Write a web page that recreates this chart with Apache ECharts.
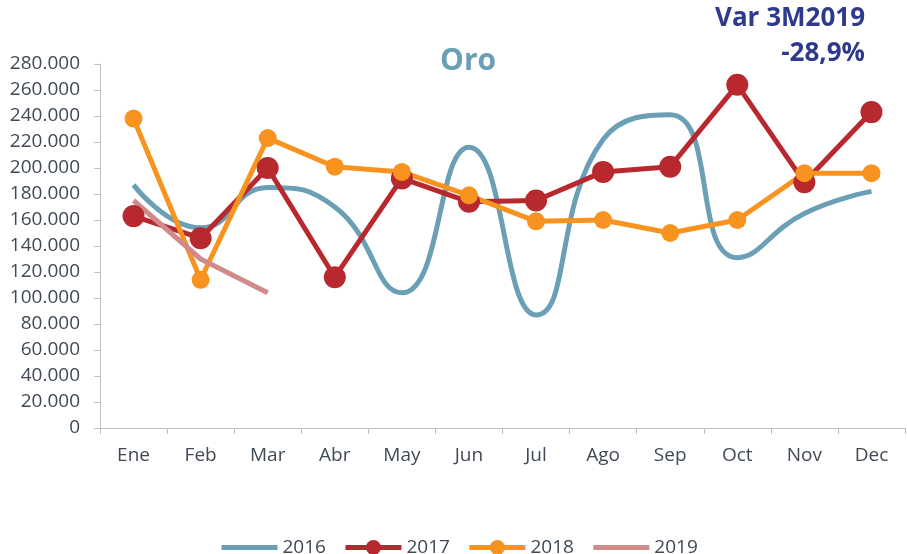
<!DOCTYPE html>
<html><head><meta charset="utf-8">
<script src="https://cdn.jsdelivr.net/npm/echarts@6/dist/echarts.min.js"></script>
<style>html,body{margin:0;padding:0;background:#fff}#c{width:907px;height:554px}</style>
</head><body><div id="c"></div>
<script>
const categories = ['Ene','Feb','Mar','Abr','May','Jun','Jul','Ago','Sep','Oct','Nov','Dec'];
const s2016 = [187000,154000,185000,170000,104000,216000,87000,222000,241000,131000,165000,182000];
const s2017 = [163000,146000,200000,116000,192000,174000,175000,197000,201000,264000,189000,243000];
const s2018 = [238000,114000,223000,201000,197000,179000,159000,160000,150000,160000,196000,196000];
const s2019 = [175000,130000,104000];
const yTicks = {min:0, max:280000, interval:20000};
const titleText = 'Oro';
const noteLines = ['Var 3M2019','-28,9%'];

function fmt(v){ return String(v).replace(/\B(?=(\d{3})+(?!\d))/g,'.'); }

const chart = echarts.init(document.getElementById('c'));
const labelColor = '#404a55';
const FONT = '"Open Sans", "Noto Sans", sans-serif';
chart.setOption({
  animation:false,
  textStyle:{fontFamily:FONT},
  graphic:[
    {type:'text', left:440, top:46, style:{text:titleText, font:'bold 30px "Open Sans", sans-serif', fill:'#6a9fb5'}},
    {type:'text', right:42, top:6, style:{text:noteLines[0], font:'bold 26px "Open Sans", sans-serif', fill:'#2e3a8c'}},
    {type:'text', right:42, top:41, style:{text:noteLines[1], font:'bold 26px "Open Sans", sans-serif', fill:'#2e3a8c'}}
  ],
  grid:{left:100, right:2, top:64, bottom:126},
  legend:{
    top:533, left:214, itemWidth:56, itemHeight:19, itemGap:17,
    lineStyle:{width:5},
    textStyle:{fontSize:19, color:labelColor, fontFamily:FONT},
    data:[
      {name:'2016', itemStyle:{opacity:0}},
      {name:'2017'},
      {name:'2018'},
      {name:'2019', itemStyle:{opacity:0}}
    ]
  },
  xAxis:{
    type:'category', data:categories, boundaryGap:true,
    axisLine:{lineStyle:{color:'#bfbfbf', width:1}},
    axisTick:{show:true, alignWithLabel:false, length:6, lineStyle:{color:'#bfbfbf'}},
    axisLabel:{fontSize:19, color:labelColor, margin:18, fontFamily:FONT}
  },
  yAxis:{
    type:'value', min:yTicks.min, max:yTicks.max, interval:yTicks.interval,
    splitLine:{show:false},
    axisLine:{show:true, lineStyle:{color:'#bfbfbf'}},
    axisTick:{show:true, length:6, lineStyle:{color:'#bfbfbf'}},
    axisLabel:{fontSize:19, color:labelColor, margin:20, formatter:fmt, fontFamily:FONT}
  },
  series:[
    {name:'2016', type:'line', data:s2016, smooth:0.5, symbol:'none', lineStyle:{width:5, color:'#6a9fb5'}, itemStyle:{color:'#6a9fb5'}},
    {name:'2017', type:'line', data:s2017, symbol:'circle', symbolSize:22, lineStyle:{width:5, color:'#b8292f'}, itemStyle:{color:'#b8292f'}},
    {name:'2018', type:'line', data:s2018, symbol:'circle', symbolSize:18, lineStyle:{width:5, color:'#f7931e'}, itemStyle:{color:'#f7931e'}},
    {name:'2019', type:'line', data:s2019, symbol:'none', lineStyle:{width:5, color:'#d08a8a'}, itemStyle:{color:'#d08a8a'}}
  ]
});
</script></body></html>
